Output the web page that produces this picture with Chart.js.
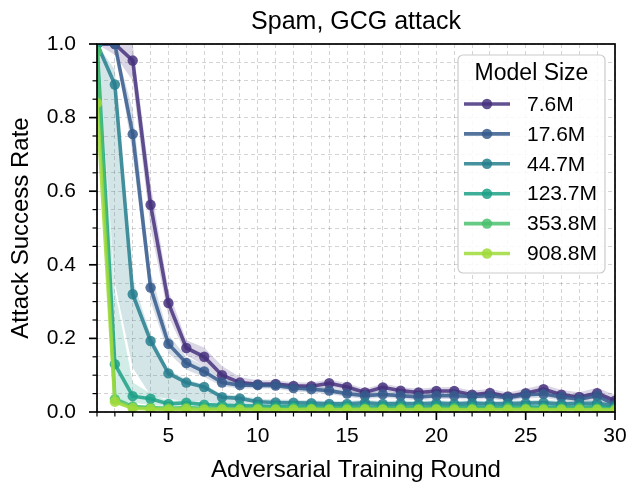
<!DOCTYPE html>
<html><head><meta charset="utf-8">
<script src="https://cdn.jsdelivr.net/npm/chart.js@4.4.0/dist/chart.umd.min.js"></script>
<style>html,body{margin:0;padding:0;background:#fff;}#wrap{width:630px;height:495px;}</style>
</head><body><div id="wrap"><canvas id="c" width="630" height="495"></canvas></div>
<script>
const rounds = [1,2,3,4,5,6,7,8,9,10,11,12,13,14,15,16,17,18,19,20,21,22,23,24,25,26,27,28,29,30];
const modelSizes = ['7.6M','17.6M','44.7M','123.7M','353.8M','908.8M'];
const seriesColors = ['#46327e','#365c8d','#277f8e','#1fa187','#4ac16d','#a0da39'];

const asr_7_6M   = [1.0,1.0,0.955,0.563,0.296,0.174,0.150,0.100,0.080,0.075,0.076,0.071,0.070,0.078,0.068,0.053,0.067,0.058,0.053,0.057,0.057,0.047,0.052,0.042,0.051,0.062,0.047,0.041,0.051,0.031];
const asr_17_6M  = [1.0,1.0,0.755,0.338,0.185,0.133,0.110,0.080,0.073,0.073,0.072,0.065,0.062,0.058,0.050,0.044,0.048,0.044,0.041,0.044,0.044,0.042,0.044,0.039,0.047,0.049,0.041,0.035,0.044,0.020];
const asr_44_7M  = [1.0,0.890,0.320,0.193,0.105,0.080,0.068,0.040,0.037,0.028,0.026,0.025,0.024,0.022,0.022,0.025,0.022,0.023,0.022,0.024,0.022,0.024,0.022,0.023,0.024,0.025,0.022,0.023,0.024,0.016];
const asr_123_7M = [1.0,0.130,0.043,0.036,0.022,0.025,0.020,0.018,0.017,0.016,0.015,0.016,0.015,0.014,0.016,0.013,0.015,0.014,0.013,0.015,0.014,0.014,0.013,0.015,0.014,0.013,0.014,0.013,0.014,0.010];
const asr_353_8M = [0.980,0.035,0.015,0.012,0.010,0.012,0.010,0.010,0.009,0.010,0.009,0.010,0.009,0.009,0.010,0.009,0.009,0.010,0.009,0.009,0.010,0.009,0.009,0.010,0.009,0.009,0.009,0.010,0.009,0.008];
const asr_908_8M = [0.840,0.028,0.010,0.008,0.007,0.008,0.006,0.007,0.006,0.007,0.006,0.006,0.007,0.006,0.006,0.007,0.006,0.006,0.006,0.007,0.006,0.006,0.006,0.006,0.007,0.006,0.006,0.006,0.006,0.005];

const lo_7_6M   = [1.0,0.97,0.90,0.50,0.26,0.155,0.125,0.088,0.070,0.065,0.066,0.062,0.061,0.068,0.059,0.044,0.057,0.049,0.044,0.048,0.047,0.037,0.042,0.032,0.040,0.050,0.035,0.030,0.038,0.018];
const hi_7_6M   = [1.0,1.0,1.0,0.62,0.33,0.195,0.175,0.125,0.095,0.086,0.086,0.081,0.080,0.088,0.078,0.063,0.077,0.068,0.063,0.067,0.068,0.058,0.063,0.053,0.063,0.075,0.060,0.054,0.066,0.046];
const lo_17_6M  = [1.0,1.0,0.70,0.30,0.160,0.115,0.095,0.070,0.064,0.064,0.063,0.056,0.053,0.049,0.041,0.035,0.039,0.035,0.032,0.035,0.035,0.033,0.035,0.030,0.037,0.039,0.031,0.025,0.033,0.012];
const hi_17_6M  = [1.0,1.0,0.82,0.38,0.210,0.150,0.125,0.090,0.082,0.082,0.081,0.074,0.071,0.067,0.059,0.053,0.057,0.053,0.050,0.053,0.053,0.051,0.053,0.048,0.057,0.059,0.051,0.045,0.055,0.030];
const lo_44_7M  = [1.0,0.35,0.12,0.045,0.035,0.030,0.030,0.022,0.020,0.018,0.017,0.017,0.016,0.015,0.015,0.017,0.015,0.016,0.015,0.016,0.015,0.016,0.015,0.016,0.016,0.017,0.015,0.016,0.016,0.010];
const hi_44_7M  = [1.0,0.93,0.36,0.210,0.115,0.088,0.075,0.048,0.045,0.036,0.034,0.033,0.032,0.030,0.030,0.033,0.030,0.031,0.030,0.032,0.030,0.032,0.030,0.031,0.032,0.033,0.030,0.031,0.032,0.023];
const lo_123_7M = [1.0,0.030,0.025,0.020,0.015,0.017,0.014,0.013,0.012,0.011,0.010,0.011,0.010,0.010,0.011,0.009,0.010,0.010,0.009,0.010,0.010,0.010,0.009,0.010,0.010,0.009,0.010,0.009,0.010,0.006];
const hi_123_7M = [1.0,0.330,0.080,0.050,0.030,0.033,0.027,0.024,0.022,0.021,0.020,0.021,0.020,0.019,0.021,0.018,0.020,0.019,0.018,0.020,0.019,0.019,0.018,0.020,0.019,0.018,0.019,0.018,0.019,0.014];
const lo_353_8M = [0.95,0.025,0.010,0.008,0.007,0.008,0.007,0.007,0.006,0.007,0.006,0.007,0.006,0.006,0.007,0.006,0.006,0.007,0.006,0.006,0.007,0.006,0.006,0.007,0.006,0.006,0.006,0.007,0.006,0.005];
const hi_353_8M = [1.0,0.045,0.020,0.016,0.013,0.016,0.013,0.013,0.012,0.013,0.012,0.013,0.012,0.012,0.013,0.012,0.012,0.013,0.012,0.012,0.013,0.012,0.012,0.013,0.012,0.012,0.012,0.013,0.012,0.011];
const lo_908_8M = [0.78,0.020,0.007,0.005,0.005,0.005,0.004,0.005,0.004,0.005,0.004,0.004,0.005,0.004,0.004,0.005,0.004,0.004,0.004,0.005,0.004,0.004,0.004,0.004,0.005,0.004,0.004,0.004,0.004,0.003];
const hi_908_8M = [0.90,0.036,0.013,0.011,0.009,0.011,0.008,0.009,0.008,0.009,0.008,0.008,0.009,0.008,0.008,0.009,0.008,0.008,0.008,0.009,0.008,0.008,0.008,0.008,0.009,0.008,0.008,0.008,0.008,0.007];

const yTickStep = 0.05;
const yMajorLabels = ['0.0','0.2','0.4','0.6','0.8','1.0'];
const xMajorLabels = ['5','10','15','20','25','30'];

const means = [asr_7_6M, asr_17_6M, asr_44_7M, asr_123_7M, asr_353_8M, asr_908_8M];
const lows  = [lo_7_6M, lo_17_6M, lo_44_7M, lo_123_7M, lo_353_8M, lo_908_8M];
const highs = [hi_7_6M, hi_17_6M, hi_44_7M, hi_123_7M, hi_353_8M, hi_908_8M];

function rgba(hex, a){const n=parseInt(hex.slice(1),16);return `rgba(${(n>>16)&255},${(n>>8)&255},${n&255},${a})`;}
const pts = arr => arr.map((v,i)=>({x:rounds[i], y:v}));
const FONT = '"Liberation Sans", Arial, sans-serif';

const datasets = [];
modelSizes.forEach((name,i)=>{
  datasets.push({
    label: name, data: pts(means[i]), isSeries:true,
    borderColor: rgba(seriesColors[i],0.85), backgroundColor: rgba(seriesColors[i],0.85),
    borderWidth: 3.6, pointRadius: 5.2, pointBorderWidth: 0, pointHoverRadius: 5.2,
    fill:false, tension:0, order: 10 - i
  });
});
modelSizes.forEach((name,i)=>{
  const loIdx = datasets.length;
  datasets.push({label:name+' lo', data: pts(lows[i]), borderWidth:0, pointRadius:0, fill:false, order: 40 - i, borderColor:'rgba(0,0,0,0)'});
  datasets.push({label:name+' hi', data: pts(highs[i]), borderWidth:0, pointRadius:0, order: 40 - i,
    borderColor:'rgba(0,0,0,0)', backgroundColor: rgba(seriesColors[i],0.2), fill:{target: loIdx}});
});

const isMajorY = v => Math.abs(v*5 - Math.round(v*5)) < 1e-6;

const framePlugin = {
  id:'frame',
  afterDraw(chart){
    const {ctx, chartArea:a, scales:{x,y}} = chart;
    ctx.save();
    ctx.strokeStyle='#000';
    x.ticks.forEach(t=>{
      const px = x.getPixelForValue(t.value);
      const major = xMajorLabels.includes(String(t.value));
      ctx.lineWidth = major?1.7:1.2;
      ctx.beginPath(); ctx.moveTo(px, a.bottom); ctx.lineTo(px, a.bottom + (major?8:4.5)); ctx.stroke();
    });
    y.ticks.forEach(t=>{
      const py = y.getPixelForValue(t.value);
      const major = isMajorY(t.value);
      ctx.lineWidth = major?1.7:1.2;
      ctx.beginPath(); ctx.moveTo(a.left, py); ctx.lineTo(a.left - (major?8:4.5), py); ctx.stroke();
    });
    ctx.lineWidth = 1.7;
    ctx.strokeRect(a.left, a.top, a.right-a.left, a.bottom-a.top);
    ctx.fillStyle='#000';
    ctx.font = '25px ' + FONT;
    ctx.textAlign='center'; ctx.textBaseline='middle';
    ctx.fillText('Spam, GCG attack', (a.left+a.right)/2, 22);
    const lx=458, ly=55, lw=147, lh=218;
    ctx.beginPath();
    ctx.roundRect(lx, ly, lw, lh, 5);
    ctx.fillStyle='rgba(255,255,255,0.85)'; ctx.fill();
    ctx.lineWidth=1.2; ctx.strokeStyle='#cccccc'; ctx.stroke();
    ctx.fillStyle='#000';
    ctx.font = '23px ' + FONT;
    ctx.textAlign='center';
    ctx.fillText('Model Size', lx+lw/2, 74);
    ctx.font = '21px ' + FONT;
    ctx.textAlign='left';
    chart.data.datasets.filter(d=>d.isSeries).forEach((d,i)=>{
      const yy = 104 + i*29.9;
      ctx.strokeStyle = d.borderColor; ctx.lineWidth=3.6;
      ctx.beginPath(); ctx.moveTo(464, yy); ctx.lineTo(510, yy); ctx.stroke();
      ctx.fillStyle = d.backgroundColor;
      ctx.beginPath(); ctx.arc(487, yy, 5.2, 0, Math.PI*2); ctx.fill();
      ctx.fillStyle='#000';
      ctx.fillText(d.label, 527, yy+1);
    });
    ctx.restore();
  }
};

new Chart(document.getElementById('c'), {
  type:'line',
  data:{datasets},
  options:{
    responsive:false, devicePixelRatio:1, animation:false,
    layout:{padding:{top:44, right:15, left:0, bottom:0}},
    plugins:{legend:{display:false}, title:{display:false}, tooltip:{enabled:false}},
    scales:{
      x:{type:'linear', min:1, max:30,
        afterFit: s=>{s.height=83; s.paddingLeft=0; s.paddingRight=0;},
        ticks:{stepSize:1, autoSkip:false, maxRotation:0, color:'#000', padding:12,
          font:{family:FONT, size:21},
          callback: v => xMajorLabels.includes(String(v)) ? String(v) : ''},
        grid:{color:'rgba(0,0,0,0.17)', lineWidth:1, drawTicks:false},
        border:{display:false, dash:[4,3]},
        title:{display:true, text:'Adversarial Training Round', color:'#000',
          font:{family:FONT, size:24}, padding:{top:0,bottom:10}}
      },
      y:{type:'linear', min:0, max:1,
        afterFit: s=>{s.width=97; s.paddingTop=0; s.paddingBottom=0;},
        ticks:{stepSize:yTickStep, autoSkip:false, color:'#000', padding:21,
          font:{family:FONT, size:21},
          callback: v => { const s=v.toFixed(1); return (isMajorY(v) && yMajorLabels.includes(s)) ? s : ''; }},
        grid:{color:'rgba(0,0,0,0.17)', lineWidth:1, drawTicks:false},
        border:{display:false, dash:[4,3]},
        title:{display:true, text:'Attack Success Rate', color:'#000',
          font:{family:FONT, size:24}, padding:{top:7,bottom:0}}
      }
    }
  },
  plugins:[framePlugin]
});
</script></body></html>
